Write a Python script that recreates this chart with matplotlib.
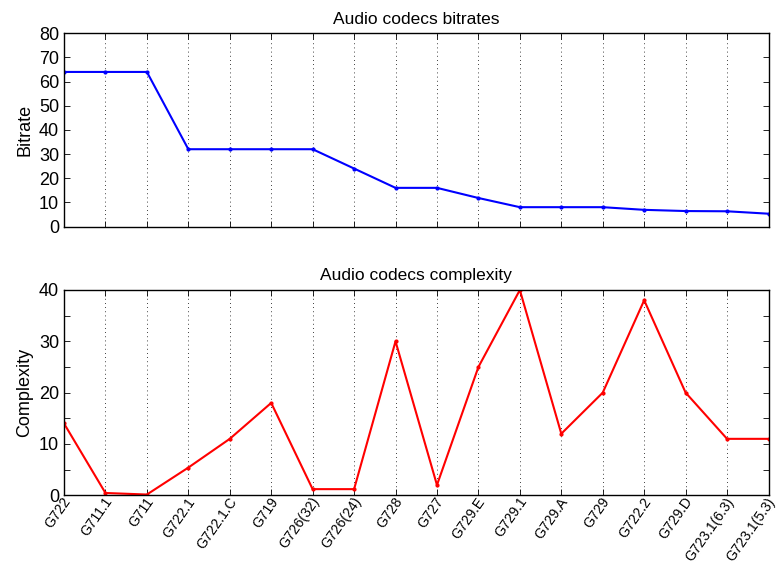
import matplotlib
matplotlib.use("Agg")
import matplotlib.pyplot as plt
import matplotlib.transforms as mtransforms
from matplotlib.ticker import MultipleLocator

plt.rcParams['font.family'] = ['Liberation Sans', 'DejaVu Sans']

codecs = ["G722", "G711.1", "G711", "G722.1", "G722.1.C", "G719", "G726(32)", "G726(24)",
          "G728", "G727", "G729.E", "G729.1", "G729.A", "G729", "G722.2", "G729.D",
          "G723.1(6.3)", "G723.1(5.3)"]
bitrate = [64, 64, 64, 32, 32, 32, 32, 24, 16, 16, 11.8, 8, 8, 8, 6.9, 6.4, 6.3, 5.3]
complexity = [14, 0.45, 0.15, 5.4, 11, 18, 1.2, 1.2, 30, 2, 25, 40, 12, 20, 38, 20, 11, 11]

fig = plt.figure(figsize=(7.78, 5.69), dpi=100)
ax1 = fig.add_axes([64/778, 1-226.5/569, (768.5-64)/778, (226.5-33.3)/569])
ax2 = fig.add_axes([64/778, 1-495.3/569, (768.5-64)/778, (495.3-290)/569])

x = list(range(len(codecs)))

def style(ax):
    ax.set_xlim(0, len(codecs)-1)
    ax.set_xticks(x)
    ax.tick_params(direction='in', top=True, right=True, length=4, width=0.6, labelsize=13)
    ax.tick_params(which='minor', direction='in', right=True, length=4, width=0.6)
    ax.xaxis.grid(True, linestyle=(0, (1, 4)), color='black', linewidth=0.6)
    for s in ax.spines.values():
        s.set_linewidth(1.0)

ax1.plot(x, bitrate, color='blue', linewidth=1.5, marker='.', markersize=4)
ax1.set_ylim(0, 80)
ax1.yaxis.set_major_locator(MultipleLocator(10))
style(ax1)
ax1.set_xticklabels([])
ax1.set_ylabel("Bitrate", fontsize=13)
ax1.set_title("Audio codecs bitrates", fontsize=12.5, pad=7)

ax2.plot(x, complexity, color='red', linewidth=1.5, marker='.', markersize=4)
ax2.set_ylim(0, 40)
ax2.yaxis.set_major_locator(MultipleLocator(10))
ax2.yaxis.set_minor_locator(MultipleLocator(5))
style(ax2)
ax2.set_xticklabels(codecs, rotation=55, ha='right', va='center', rotation_mode='anchor', fontsize=10)
ax2.tick_params(axis='x', labelsize=10, pad=4)
offset = mtransforms.ScaledTranslation(4/100, 2/100, fig.dpi_scale_trans)
for lbl in ax2.get_xticklabels():
    lbl.set_transform(lbl.get_transform() + offset)
ax2.set_ylabel("Complexity", fontsize=13)
ax2.set_title("Audio codecs complexity", fontsize=12.5, pad=7)

fig.savefig("out.png", dpi=100)
